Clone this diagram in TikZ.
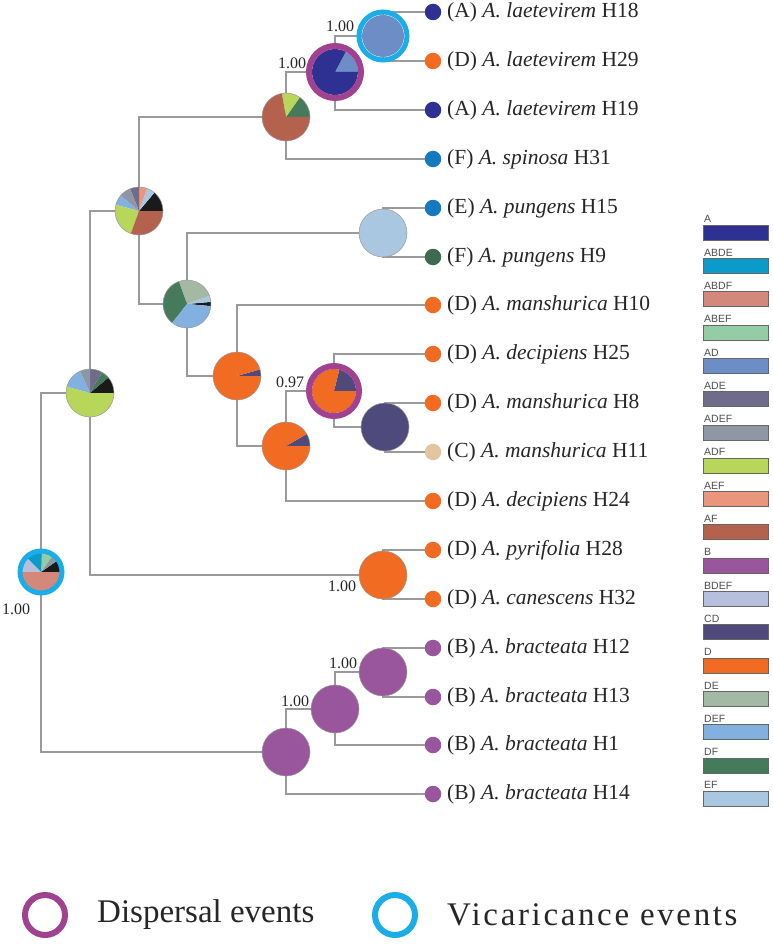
\documentclass[tikz,border=0pt]{standalone}
\usepackage{fontspec}
\setmainfont{Liberation Serif}
\newfontfamily\legfont{Liberation Sans}
\newfontfamily\evfont[LetterSpace=8]{Liberation Serif}
\definecolor{cA}{HTML}{2E3192}
\definecolor{cABDE}{HTML}{0A9BCB}
\definecolor{cABDF}{HTML}{D4887A}
\definecolor{cABEF}{HTML}{94CCA6}
\definecolor{cAD}{HTML}{6C8DC6}
\definecolor{cADE}{HTML}{6F6B8A}
\definecolor{cADEF}{HTML}{8F97A5}
\definecolor{cADF}{HTML}{B8D65A}
\definecolor{cAEF}{HTML}{E9967C}
\definecolor{cAF}{HTML}{B4624E}
\definecolor{cB}{HTML}{9A569C}
\definecolor{cBDEF}{HTML}{B6C0DD}
\definecolor{cCD}{HTML}{4E4A7B}
\definecolor{cD}{HTML}{F26B22}
\definecolor{cDE}{HTML}{A4B9A4}
\definecolor{cDEF}{HTML}{82B1E0}
\definecolor{cDF}{HTML}{457B5B}
\definecolor{cEF}{HTML}{AAC7E1}
\definecolor{cBlk}{HTML}{1A1A1A}
\definecolor{ringM}{HTML}{A0428F}
\definecolor{ringC}{HTML}{1BADE8}
\definecolor{dotF}{HTML}{1479BE}
\definecolor{dotG}{HTML}{3E6B50}
\definecolor{dotC}{HTML}{E2C6A0}
\definecolor{treeline}{HTML}{9A9A9A}
\newcommand{\pslice}[5]{\fill[#5] (#1) -- ++({-(#3)}:#2) arc[start angle={-(#3)}, end angle={-(#4)}, radius=#2] -- cycle;}
\newcommand{\pedge}[2]{\draw[pieedge] (#1) circle[radius=#2];}
\tikzset{
  branch/.style={draw=treeline, line width=1.5pt},
  pieedge/.style={draw=gray!80, line width=0.5pt},
  tipdot/.style={circle, inner sep=0pt, minimum size=16.5pt},
  tiplabel/.style={anchor=west, inner sep=0pt, font=\fontsize{21.5}{25}\selectfont, text=black!85},
  support/.style={inner sep=0pt, font=\fontsize{16}{19}\selectfont, text=black!85},
  legbox/.style={draw=black!60, line width=0.6pt, minimum width=65pt, minimum height=15pt, inner sep=0pt},
  leglabel/.style={anchor=south west, inner sep=0pt, font=\legfont\fontsize{10.5}{12}\selectfont, text=black!70},
  ringdisp/.style={draw=ringM, line width=6pt},
  ringvic/.style={draw=ringC, line width=5pt},
  evtext/.style={anchor=west, inner sep=0pt, font=\fontsize{33}{38}\selectfont, text=black!85}
}
\begin{document}
\begin{tikzpicture}[x=1pt, y=-1pt]
\useasboundingbox (0,0) rectangle (772,944);
% internal nodes
\coordinate (root) at (41,572);
\coordinate (N1) at (90,393);
\coordinate (N2) at (139,211);
\coordinate (N3) at (286,117);
\coordinate (N5) at (335,72);
\coordinate (N6) at (383,36);
\coordinate (N4) at (187,304);
\coordinate (EF) at (383,233);
\coordinate (N7) at (237,376);
\coordinate (N8) at (286,446);
\coordinate (N9) at (334,391);
\coordinate (CD) at (385,427);
\coordinate (Dp) at (383,575);
\coordinate (B1) at (383,672);
\coordinate (B2) at (335,709);
\coordinate (B3) at (286,752);
% tips
\node[tipdot, fill=cA] (t1) at (433,12) {};
\node[tipdot, fill=cD] (t2) at (433,61) {};
\node[tipdot, fill=cA] (t3) at (433,110) {};
\node[tipdot, fill=dotF] (t4) at (433,159) {};
\node[tipdot, fill=dotF] (t5) at (433,208) {};
\node[tipdot, fill=dotG] (t6) at (433,257) {};
\node[tipdot, fill=cD] (t7) at (433,305) {};
\node[tipdot, fill=cD] (t8) at (433,354) {};
\node[tipdot, fill=cD] (t9) at (433,403) {};
\node[tipdot, fill=dotC] (t10) at (433,452) {};
\node[tipdot, fill=cD] (t11) at (433,501) {};
\node[tipdot, fill=cD] (t12) at (433,550) {};
\node[tipdot, fill=cD] (t13) at (433,599) {};
\node[tipdot, fill=cB] (t14) at (433,648) {};
\node[tipdot, fill=cB] (t15) at (433,697) {};
\node[tipdot, fill=cB] (t16) at (433,745) {};
\node[tipdot, fill=cB] (t17) at (433,794) {};
% tree branches
\draw[branch] (root) |- (N1);
\draw[branch] (root) |- (B3);
\draw[branch] (N1) |- (N2);
\draw[branch] (N1) |- (Dp);
\draw[branch] (N2) |- (N3);
\draw[branch] (N2) |- (N4);
\draw[branch] (N3) |- (N5);
\draw[branch] (N3) |- (t4);
\draw[branch] (N5) |- (N6);
\draw[branch] (N5) |- (t3);
\draw[branch] (N6) |- (t1);
\draw[branch] (N6) |- (t2);
\draw[branch] (N4) |- (EF);
\draw[branch] (N4) |- (N7);
\draw[branch] (EF) |- (t5);
\draw[branch] (EF) |- (t6);
\draw[branch] (N7) |- (t7);
\draw[branch] (N7) |- (N8);
\draw[branch] (N8) |- (N9);
\draw[branch] (N8) |- (t11);
\draw[branch] (N9) |- (t8);
\draw[branch] (N9) |- (CD);
\draw[branch] (CD) |- (t9);
\draw[branch] (CD) |- (t10);
\draw[branch] (Dp) |- (t12);
\draw[branch] (Dp) |- (t13);
\draw[branch] (B3) |- (B2);
\draw[branch] (B3) |- (t17);
\draw[branch] (B2) |- (B1);
\draw[branch] (B2) |- (t16);
\draw[branch] (B1) |- (t14);
\draw[branch] (B1) |- (t15);
% support values
\node[support] (s1) at (340,26) {1.00};
\node[support] (s2) at (292,63) {1.00};
\node[support] (s3) at (290,382) {0.97};
\node[support] (s4) at (342,586) {1.00};
\node[support] (s5) at (343,663) {1.00};
\node[support] (s6) at (295,701) {1.00};
\node[support] (s7) at (16,609) {1.00};
% root pie
\pslice{root}{19}{0}{35}{cBlk}
\pslice{root}{19}{35}{55}{cADEF}
\pslice{root}{19}{55}{88}{cABEF}
\pslice{root}{19}{88}{135}{cABDE}
\pslice{root}{19}{135}{180}{cBDEF}
\pslice{root}{19}{180}{360}{cABDF}
\draw[ringvic] (root) circle[radius=21];
% N1
\pslice{N1}{24}{0}{40}{cBlk}
\pslice{N1}{24}{40}{60}{cDF}
\pslice{N1}{24}{60}{90}{cADE}
\pslice{N1}{24}{90}{115}{cADEF}
\pslice{N1}{24}{115}{165}{cDEF}
\pslice{N1}{24}{165}{360}{cADF}
\pedge{N1}{24}
% N2
\pslice{N2}{24}{0}{50}{cBlk}
\pslice{N2}{24}{50}{70}{cEF}
\pslice{N2}{24}{70}{90}{cAEF}
\pslice{N2}{24}{90}{112}{cADE}
\pslice{N2}{24}{112}{140}{cADEF}
\pslice{N2}{24}{140}{165}{cDEF}
\pslice{N2}{24}{165}{250}{cADF}
\pslice{N2}{24}{250}{360}{cAF}
\pedge{N2}{24}
% N3
\pslice{N3}{24}{0}{55}{cDF}
\pslice{N3}{24}{55}{100}{cADF}
\pslice{N3}{24}{100}{360}{cAF}
\pedge{N3}{24}
% N5
\pslice{N5}{23}{0}{62}{cAD}
\pslice{N5}{23}{62}{360}{cA}
\draw[ringdisp] (N5) circle[radius=26];
% N6
\fill[cAD] (N6) circle[radius=21];
\draw[ringvic] (N6) circle[radius=24];
% N4
\pslice{N4}{24}{-5}{5}{cBlk}
\pslice{N4}{24}{5}{20}{cEF}
\pslice{N4}{24}{20}{110}{cDE}
\pslice{N4}{24}{110}{232}{cDF}
\pslice{N4}{24}{232}{355}{cDEF}
\pedge{N4}{24}
% EF
\fill[cEF] (EF) circle[radius=24];
\pedge{EF}{24}
% N7
\pslice{N7}{24}{0}{16}{cCD}
\pslice{N7}{24}{16}{360}{cD}
\pedge{N7}{24}
% N8
\pslice{N8}{24}{0}{30}{cCD}
\pslice{N8}{24}{30}{360}{cD}
\pedge{N8}{24}
% N9
\pslice{N9}{22}{0}{76}{cCD}
\pslice{N9}{22}{76}{360}{cD}
\draw[ringdisp] (N9) circle[radius=25];
% CD
\fill[cCD] (CD) circle[radius=24];
\pedge{CD}{24}
% D pie
\fill[cD] (Dp) circle[radius=24];
\pedge{Dp}{24}
% B pies
\fill[cB] (B1) circle[radius=24];
\pedge{B1}{24}
\fill[cB] (B2) circle[radius=24];
\pedge{B2}{24}
\fill[cB] (B3) circle[radius=24];
\pedge{B3}{24}
% tip labels
\node[tiplabel] (l1) at (447,12) {(A) \textit{A. laetevirem} H18};
\node[tiplabel] (l2) at (447,61) {(D) \textit{A. laetevirem} H29};
\node[tiplabel] (l3) at (447,110) {(A) \textit{A. laetevirem} H19};
\node[tiplabel] (l4) at (447,159) {(F) \textit{A. spinosa} H31};
\node[tiplabel] (l5) at (447,208) {(E) \textit{A. pungens} H15};
\node[tiplabel] (l6) at (447,257) {(F) \textit{A. pungens} H9};
\node[tiplabel] (l7) at (447,305) {(D) \textit{A. manshurica} H10};
\node[tiplabel] (l8) at (447,354) {(D) \textit{A. decipiens} H25};
\node[tiplabel] (l9) at (447,403) {(D) \textit{A. manshurica} H8};
\node[tiplabel] (l10) at (447,452) {(C) \textit{A. manshurica} H11};
\node[tiplabel] (l11) at (447,501) {(D) \textit{A. decipiens} H24};
\node[tiplabel] (l12) at (447,550) {(D) \textit{A. pyrifolia} H28};
\node[tiplabel] (l13) at (447,599) {(D) \textit{A. canescens} H32};
\node[tiplabel] (l14) at (447,648) {(B) \textit{A. bracteata} H12};
\node[tiplabel] (l15) at (447,697) {(B) \textit{A. bracteata} H13};
\node[tiplabel] (l16) at (447,745) {(B) \textit{A. bracteata} H1};
\node[tiplabel] (l17) at (447,794) {(B) \textit{A. bracteata} H14};
% colour legend
\foreach \nm/\col [count=\i from 0] in {A/cA, ABDE/cABDE, ABDF/cABDF, ABEF/cABEF, AD/cAD, ADE/cADE, ADEF/cADEF, ADF/cADF, AEF/cAEF, AF/cAF, B/cB, BDEF/cBDEF, CD/cCD, D/cD, DE/cDE, DEF/cDEF, DF/cDF, EF/cEF} {
  \node[legbox, fill=\col] (lb\i) at (735.5, {232.5+33.3*\i}) {};
  \node[leglabel] (ll\i) at (704, {223+33.3*\i}) {\nm};
}
% event legend
\coordinate (ev1) at (45,915);
\coordinate (ev2) at (395,915);
\draw[ringdisp] (ev1) circle[radius=20];
\draw[ringvic, line width=6pt] (ev2) circle[radius=20];
\node[evtext] (evt1) at (97,915) {Dispersal events};
\node[evtext] (evt2) at (447,915) {\evfont Vicaricance events};
\end{tikzpicture}
\end{document}
